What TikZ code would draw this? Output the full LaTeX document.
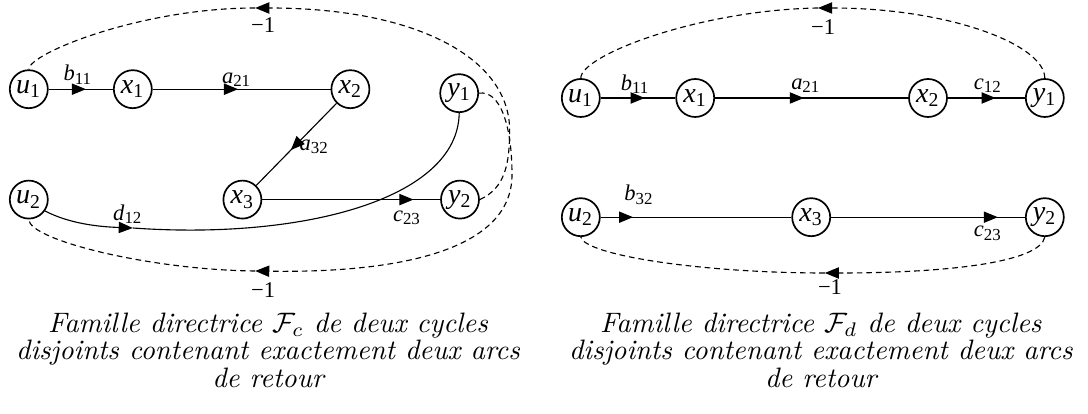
\documentclass[tikz,border=0pt]{standalone}
\usepackage{fontspec}
\newfontfamily\timesf{Liberation Serif}
\usetikzlibrary{arrows.meta}
\usetikzlibrary{decorations.markings}
\usetikzlibrary{positioning}
\newcommand{\vx}[2]{\textit{#1}\textsubscript{#2}}

\begin{document}
\begin{tikzpicture}[
  vtx/.style={circle,draw,line width=0.6pt,minimum size=0.475cm,inner sep=0pt,font=\timesf\fontsize{10}{11}\selectfont},
  lbl/.style={font=\timesf\fontsize{8}{9}\selectfont,inner sep=0pt},
  fwd/.style={line width=0.4pt,postaction={decorate},decoration={markings,mark=at position #1 with {\arrow{Triangle[length=5pt,width=4pt]}}}},
  fwd/.default=0.5,
  retour/.style={line width=0.4pt,dash pattern=on 2pt off 1.4pt},
  pointe/.style={-{Triangle[length=5pt,width=4pt]}},
  legende/.style={align=center,font=\itshape\fontsize{10}{9.8}\selectfont}
]
\useasboundingbox (0,0) rectangle (13.6,5.175);

% famille F_c
\node[vtx] (cu1) at (0.36,4.06) {\vx{u}{1}};
\node[vtx] (cx1) at (1.66,4.06) {\vx{x}{1}};
\node[vtx] (cx2) at (4.38,4.06) {\vx{x}{2}};
\node[vtx] (cy1) at (5.74,4.01) {\vx{y}{1}};
\node[vtx] (cu2) at (0.36,2.68) {\vx{u}{2}};
\node[vtx] (cx3) at (3.03,2.68) {\vx{x}{3}};
\node[vtx] (cy2) at (5.75,2.68) {\vx{y}{2}};

\draw[fwd=0.58] (cu1) -- (cx1);
\draw[fwd=0.48] (cx1) -- (cx2);
\draw[fwd=0.57] (cx2) -- (cx3);
\draw[fwd=0.85] (cx3) -- (cy2);

\coordinate (cd) at (1.66,2.325);
\draw[pointe,line width=0.4pt] (cu2.-35) .. controls (0.875,2.375) and (1.25,2.34) .. (cd);
\draw[line width=0.4pt] (cd) .. controls (3.75,2.175) and (5.725,2.675) .. (cy1.south);

\coordinate (ctop) at (3.19,5.075);
\coordinate (cbot) at (3.19,1.7875);
\draw[retour,pointe] (cy2.east) .. controls (6.31,2.825) and (6.37,3.11) .. (6.37,3.55)
  .. controls (6.37,4.425) and (5.25,5.075) .. (ctop);
\draw[retour] (ctop) .. controls (1.75,5.075) and (0.35,4.5) .. (cu1.north);
\draw[retour,pointe] (cy1.east) .. controls (6.25,4.05) and (6.4,3.61) .. (6.4,2.99)
  .. controls (6.4,2.05) and (5.0,1.76) .. (cbot);
\draw[retour] (cbot) .. controls (1.875,1.8) and (0.36,2.175) .. (cu2.south);

\node[lbl] (cb11) at (0.975,4.24) {\vx{b}{11}};
\node[lbl] (ca21) at (2.96,4.18) {\vx{a}{21}};
\node[lbl] (ca32) at (3.93,3.34) {\vx{a}{32}};
\node[lbl] (cc23) at (5.09,2.45) {\vx{c}{23}};
\node[lbl] (cd12) at (1.6,2.5) {\vx{d}{12}};
\node[lbl] (cm1) at (3.29,4.86) {−1};
\node[lbl] (cm2) at (3.29,1.55) {−1};

% famille F_d
\node[vtx] (du1) at (7.26,3.95) {\vx{u}{1}};
\node[vtx] (dx1) at (8.69,3.95) {\vx{x}{1}};
\node[vtx] (dx2) at (11.6,3.95) {\vx{x}{2}};
\node[vtx] (dy1) at (13.06,3.95) {\vx{y}{1}};
\node[vtx] (du2) at (7.26,2.46) {\vx{u}{2}};
\node[vtx] (dx3) at (10.14,2.46) {\vx{x}{3}};
\node[vtx] (dy2) at (13.06,2.46) {\vx{y}{2}};

\draw[fwd=0.59] (du1) -- (dx1);
\draw[fwd=0.46] (dx1) -- (dx2);
\draw[fwd=0.62] (dx2) -- (dy1);
\draw[fwd=0.17] (du2) -- (dx3);
\draw[fwd=0.86] (dx3) -- (dy2);

\coordinate (dtop) at (10.225,5.075);
\coordinate (dbot) at (10.31,1.7625);
\draw[retour,pointe] (dy1.north) .. controls (13.06,4.6125) and (11.875,5.075) .. (dtop);
\draw[retour] (dtop) .. controls (8.75,5.05) and (7.26,4.4875) .. (du1.north);
\draw[retour,pointe] (dy2.south) .. controls (13.0,1.9) and (11.875,1.7625) .. (dbot);
\draw[retour] (dbot) .. controls (8.75,1.7625) and (7.31,1.9875) .. (du2.south);

\node[lbl] (db11) at (7.94,4.12) {\vx{b}{11}};
\node[lbl] (da21) at (10.075,4.1) {\vx{a}{21}};
\node[lbl] (dc12) at (12.35,4.1) {\vx{c}{12}};
\node[lbl] (db32) at (7.99,2.74) {\vx{b}{32}};
\node[lbl] (dc23) at (12.35,2.26) {\vx{c}{23}};
\node[lbl] (dm1) at (10.29,4.84) {−1};
\node[lbl] (dm2) at (10.375,1.59) {−1};

% legendes
\node[legende] (capc) at (3.35,0.8) {Famille directrice $\mathcal{F}_c$ de deux cycles\\ disjoints contenant exactement deux arcs\\ de retour};
\node[legende] (capd) at (10.26,0.8) {Famille directrice $\mathcal{F}_d$ de deux cycles\\ disjoints contenant exactement deux arcs\\ de retour};

\end{tikzpicture}
\end{document}
